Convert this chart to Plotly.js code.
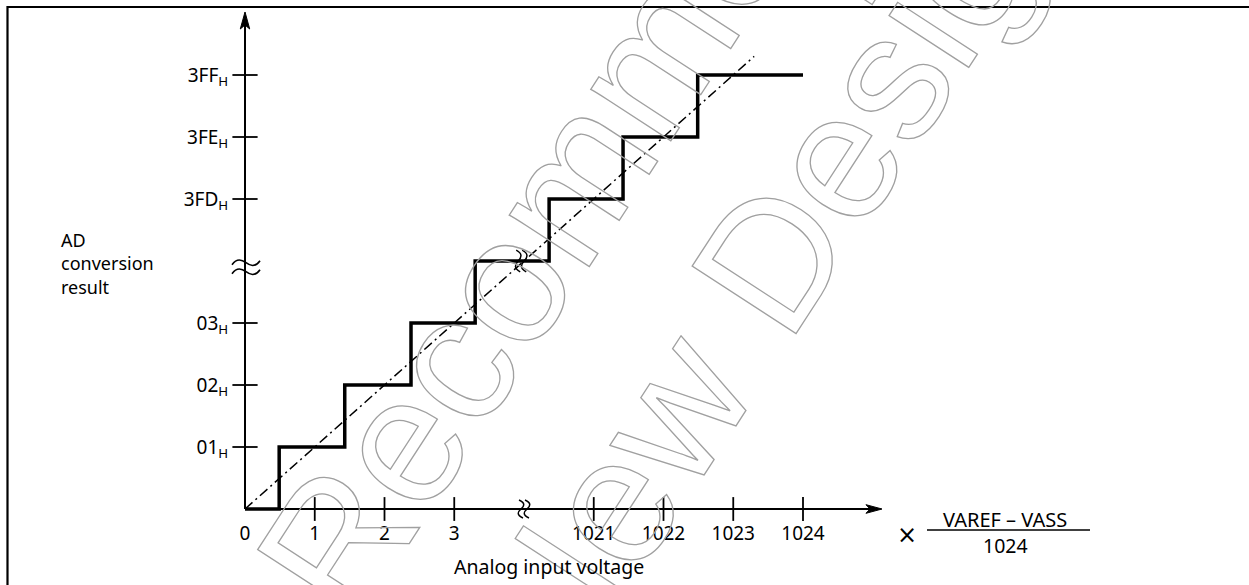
<!DOCTYPE html>
<html><head><meta charset="utf-8">
<script src="https://cdn.plot.ly/plotly-3.0.1.min.js"></script>
<style>
html,body{margin:0;padding:0;background:#fff;}
#chart{width:1249px;height:585px;}
.annotation[data-index="0"] text.annotation-text,
.annotation[data-index="1"] text.annotation-text{stroke:#a0a0a0;stroke-width:1.3px;}
</style></head><body><div id="chart"></div>
<script>
// ---- data ----
const voltTicks = [0, 1, 2, 3, 1021, 1022, 1023, 1024];          // x tick labels (LSB)
const codeTicks = [0x01, 0x02, 0x03, 0x3FD, 0x3FE, 0x3FF];        // y tick codes
const stepVolt  = [0, 0.49, 1.43, 2.38, 3.3, 1020.36, 1021.42, 1022.49, 1024]; // transition inputs
const stepCode  = [0, 1, 2, 3, 0x3FC, 0x3FD, 0x3FE, 0x3FF, 0x3FF];             // output codes
const idealVolt = [0, 1023.3];
const idealCode = [0, 1023.3];
const breakVolt = 1020;     // axis break on the input axis
const breakCode = 0x3FC;    // axis break on the code axis

// ---- broken-axis mapping ----
const xPos = v => v < 3.7 ? v : v - breakVolt + 4;
const yPos = c => c < 3.7 ? c : c - breakCode + 4;

const W = 1249, H = 585;
const X0 = 245, UX = 69.75, Y0 = 509, UY = 62;   // origin pixel & pixels per unit
const FONT = 'Noto Sans';
const P = (px, py) => [px / W, 1 - py / H];
const pxX = x => X0 + x * UX;
const pxY = y => Y0 - y * UY;

function poly(pts, close) {
  return 'M' + pts.map(([a, b]) => { const [u, v] = P(a, b); return u.toFixed(5) + ',' + v.toFixed(5); }).join('L') + (close ? 'Z' : '');
}
function bez(cx, cy, pts) {
  const c = pts.map(([dx, dy]) => { const [u, v] = P(cx + dx, cy + dy); return u.toFixed(5) + ',' + v.toFixed(5); });
  return 'M' + c[0] + ' C' + c[1] + ' ' + c[2] + ' ' + c[3] + ' C' + c[4] + ' ' + c[5] + ' ' + c[6];
}
const tilde = [[-14, 2], [-9, -5], [-4, -3], [0, 0], [4, 3], [9, 5], [14, -2]];
const vwave = s => [[-2, -9], [5, -6], [3, -2.6], [0, 0], [-3, 2.6], [-5, 6], [2, 9]].map(([a, b]) => [a, b * s]);

const traces = [
  { x: idealVolt.map(xPos), y: idealCode.map(yPos), mode: 'lines',
    line: { color: '#000', width: 1.5, dash: '10px,4px,2px,4px' }, hoverinfo: 'skip' },
  { x: stepVolt.map(xPos), y: stepCode.map(yPos), mode: 'lines',
    line: { color: '#000', width: 3.5, shape: 'hv' }, hoverinfo: 'skip' },
  { x: voltTicks.filter(v => v > 0).map(xPos), y: voltTicks.filter(v => v > 0).map(() => 0), mode: 'markers',
    marker: { symbol: 'line-ns', size: 17, line: { width: 1.8, color: '#000' } }, cliponaxis: false, hoverinfo: 'skip' },
  { x: codeTicks.map(() => 0), y: codeTicks.map(yPos), mode: 'markers',
    marker: { symbol: 'line-ew', size: 18, line: { width: 1.8, color: '#000' } }, cliponaxis: false, hoverinfo: 'skip' }
];

const lineStyle = w => ({ color: '#000', width: w });
const shapes = [
  { type: 'path', xref: 'paper', yref: 'paper', path: poly([[7.5, 590], [7.5, 7], [1260, 7]]), line: lineStyle(2.2), fillcolor: 'rgba(0,0,0,0)' },
  { type: 'path', xref: 'paper', yref: 'paper', path: poly([[pxX(0), pxY(0)], [pxX(0), 16]]), line: lineStyle(2) },
  { type: 'path', xref: 'paper', yref: 'paper', path: poly([[pxX(0), pxY(0)], [878, pxY(0)]]), line: lineStyle(2) },
  { type: 'path', xref: 'paper', yref: 'paper', path: poly([[pxX(0), 12], [pxX(0) - 4.7, 29], [pxX(0), 25], [pxX(0) + 4.7, 29]], true), line: lineStyle(1), fillcolor: '#000' },
  { type: 'path', xref: 'paper', yref: 'paper', path: poly([[882, pxY(0)], [866, pxY(0) - 4.3], [870, pxY(0)], [866, pxY(0) + 4.3]], true), line: lineStyle(1), fillcolor: '#000' },
  { type: 'path', xref: 'paper', yref: 'paper', path: bez(pxX(0) + 1, pxY(3.9) - 4.5, tilde), line: lineStyle(1.6), fillcolor: 'rgba(0,0,0,0)' },
  { type: 'path', xref: 'paper', yref: 'paper', path: bez(pxX(0) + 1, pxY(3.9) + 4.5, tilde), line: lineStyle(1.6), fillcolor: 'rgba(0,0,0,0)' },
  { type: 'path', xref: 'paper', yref: 'paper', path: bez(pxX(4) - 3, pxY(0), vwave(1)), line: lineStyle(1.5), fillcolor: 'rgba(0,0,0,0)' },
  { type: 'path', xref: 'paper', yref: 'paper', path: bez(pxX(4) + 3, pxY(0), vwave(1)), line: lineStyle(1.5), fillcolor: 'rgba(0,0,0,0)' },
  { type: 'path', xref: 'paper', yref: 'paper', path: bez(pxX(3.96) - 3, pxY(4), vwave(1.2)), line: lineStyle(1.5), fillcolor: 'rgba(0,0,0,0)' },
  { type: 'path', xref: 'paper', yref: 'paper', path: bez(pxX(3.96) + 3, pxY(4), vwave(1.2)), line: lineStyle(1.5), fillcolor: 'rgba(0,0,0,0)' },
  { type: 'path', xref: 'paper', yref: 'paper', path: poly([[927, 530], [1090, 530]]), line: lineStyle(1.5) }
];

function txt(text, px, py, opts) {
  const [x, y] = P(px, py);
  return Object.assign({ xref: 'paper', yref: 'paper', x, y, text, showarrow: false,
    xanchor: 'center', yanchor: 'middle', font: { family: FONT, size: 19, color: '#000' } }, opts || {});
}
const wmFont = { family: 'Liberation Sans', size: 180, color: 'rgba(0,0,0,0)' };
const annotations = [
  txt('Not Recommended', 543, 222, { textangle: -57, font: wmFont }),
  txt('for New Design', 705, 358, { textangle: -57, font: wmFont }),
  txt('AD<br>conversion<br>result', 59, 264, { xanchor: 'left', align: 'left', font: { family: FONT, size: 18, color: '#000' } }),
  txt('Analog input voltage', 549, 566, { font: { family: FONT, size: 19.5, color: '#000' } }),
  txt('×', 907, 535, { font: { family: 'DejaVu Sans', size: 24, color: '#000' } }),
  txt('VAREF – VASS', 1005, 519, { font: { family: FONT, size: 20, color: '#000' } }),
  txt('1024', 1005, 545, { font: { family: FONT, size: 19.5, color: '#000' } })
];

const axisCommon = { showline: false, zeroline: false, showgrid: false, fixedrange: true,
  ticks: 'outside', tickcolor: 'rgba(0,0,0,0)', tickfont: { family: FONT, size: 19, color: '#000' } };

const layout = {
  width: W, height: H, margin: { l: 0, r: 0, t: 0, b: 0 },
  paper_bgcolor: '#fff', plot_bgcolor: 'rgba(0,0,0,0)', showlegend: false, hovermode: false,
  xaxis: Object.assign({}, axisCommon, { range: [-X0 / UX, (W - X0) / UX], anchor: 'free', position: 1 - Y0 / H,
    tickmode: 'array', tickvals: voltTicks.map(xPos), ticktext: voltTicks.map(String), ticklen: 7 }),
  yaxis: Object.assign({}, axisCommon, { range: [-(H - Y0) / UY, Y0 / UY], anchor: 'free', position: X0 / W,
    tickmode: 'array', tickvals: codeTicks.map(yPos),
    ticktext: codeTicks.map(c => c.toString(16).toUpperCase().padStart(2, '0') + '<sub><span style="color:#000">H</span></sub>'), ticklen: 13 }),
  shapes, annotations
};
Plotly.newPlot('chart', traces, layout, { staticPlot: true, displayModeBar: false });
</script></body></html>
